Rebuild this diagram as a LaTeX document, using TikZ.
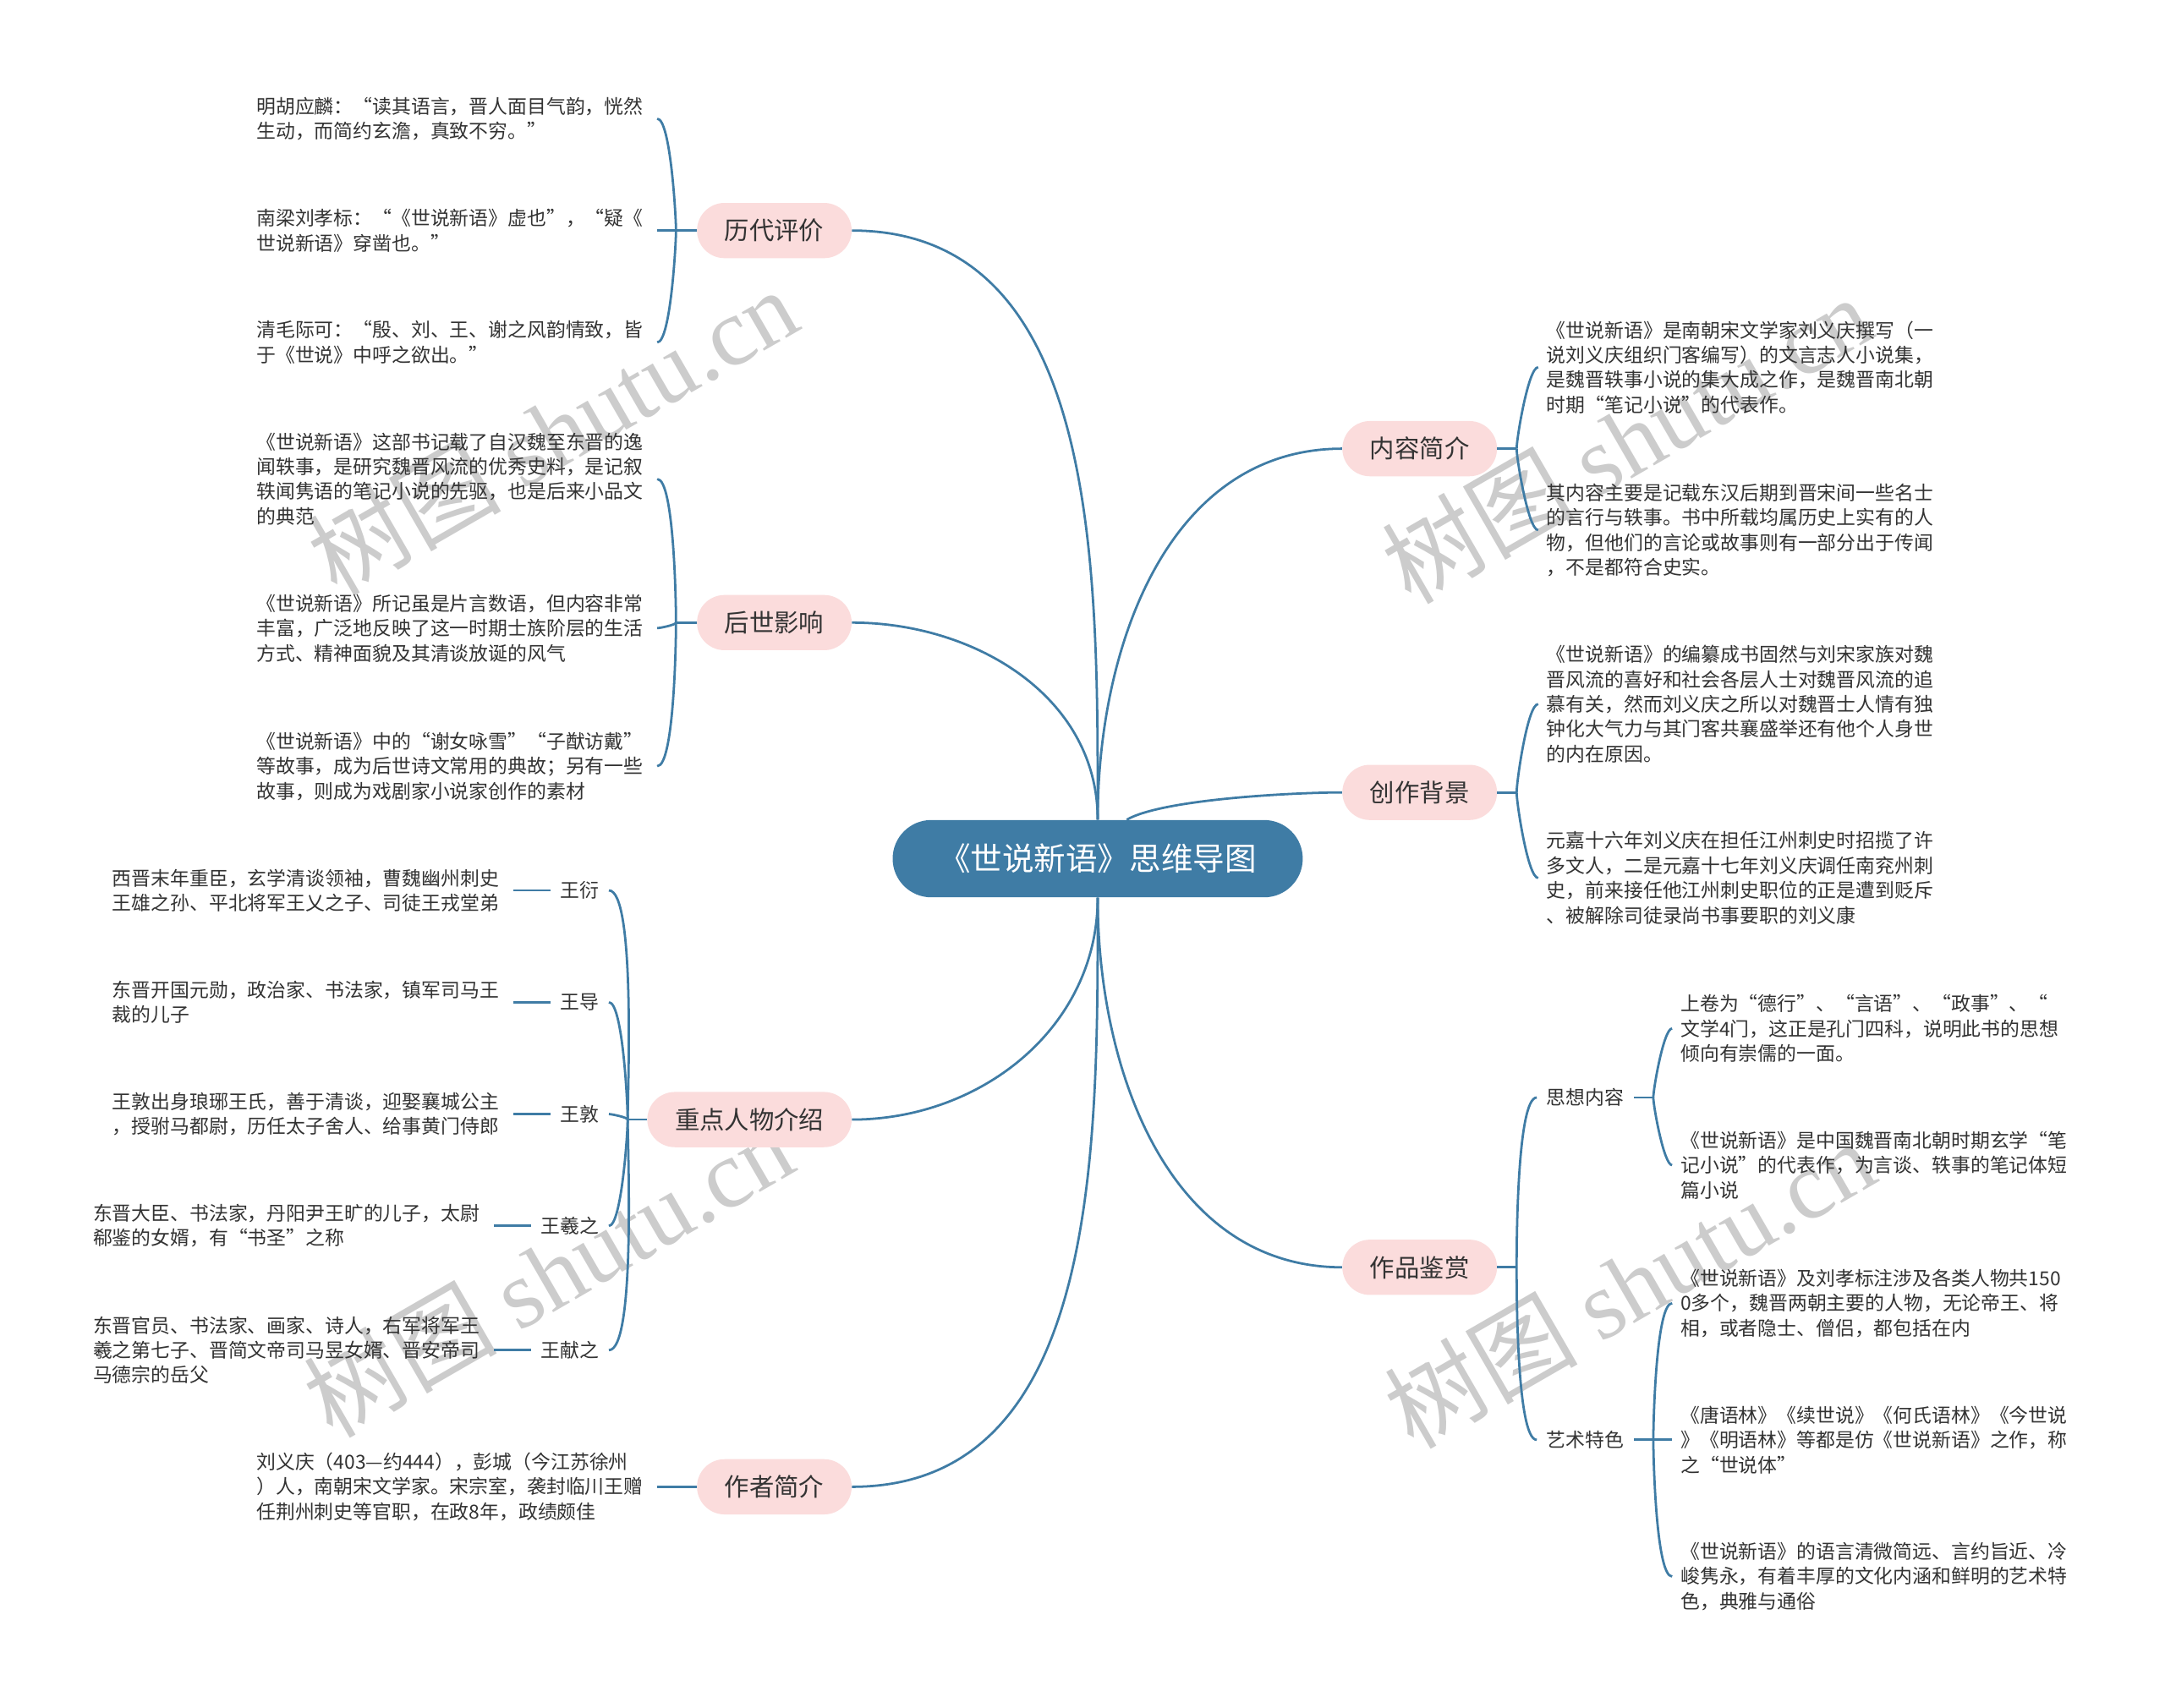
\documentclass[tikz,border=0pt]{standalone}
\usepackage{fontspec}
\setmainfont{Noto Sans CJK SC}
\newfontfamily\wmfont{Liberation Serif}
\usetikzlibrary{positioning}
\definecolor{mainblue}{HTML}{3F7CA5}
\definecolor{pinkbg}{HTML}{FBDCDC}
\definecolor{txt}{HTML}{333333}

\begin{document}
\begin{tikzpicture}[x=1pt, y=1pt,
    main/.style = {fill=mainblue, text=white, rounded corners=28pt, minimum width=297pt, minimum height=56pt, font=\fontsize{23}{28}\selectfont},
    branch/.style = {fill=pinkbg, text=txt, rounded corners=20pt, minimum height=40pt, inner xsep=20pt, font=\fontsize{18}{22}\selectfont},
    sub/.style = {text=txt, inner xsep=7pt, inner ysep=2pt, font=\fontsize{14}{18}\selectfont},
    leaf/.style = {text=txt, text width=284pt, align=left, inner xsep=6pt, inner ysep=0pt, font=\fontsize{14}{18}\selectfont},
    wmark/.style = {text=black!20, rotate=30, font=\fontsize{70}{80}\selectfont},
    link/.style = {draw=mainblue, line width=1.7pt}]
        \fill[white] (0,0) rectangle (1568,-1237);
        % watermarks
        \node[wmark] (w1) at (400,-312) {树图 {\wmfont shutu.cn}};
        \node[wmark] (w2) at (1178,-318) {树图 {\wmfont shutu.cn}};
        \node[wmark] (w3) at (397,-922) {树图 {\wmfont shutu.cn}};
        \node[wmark] (w4) at (1180,-930) {树图 {\wmfont shutu.cn}};

        \node[main] (0) at (795,-622) {《世说新语》思维导图};
        \node[branch, anchor=east] (1) at (617,-167) {历代评价};
        \node[branch, anchor=east] (2) at (617,-451) {后世影响};
        \node[branch, anchor=east] (3) at (617,-811) {重点人物介绍};
        \node[branch, anchor=east] (4) at (617,-1077) {作者简介};
        \node[branch, anchor=west] (5) at (972,-325) {内容简介};
        \node[branch, anchor=west] (6) at (972,-574) {创作背景};
        \node[branch, anchor=west] (7) at (972,-918) {作品鉴赏};

        % 历代评价
        \node[leaf, anchor=east] (11) at (476,-86) {明胡应麟：“读其语言，晋人面目气韵，恍然\\生动，而简约玄澹，真致不穷。”};
        \node[leaf, anchor=east] (12) at (476,-167) {南梁刘孝标：“《世说新语》虚也”，“疑《\\世说新语》穿凿也。”};
        \node[leaf, anchor=east] (13) at (476,-248) {清毛际可：“殷、刘、王、谢之风韵情致，皆\\于《世说》中呼之欲出。”};
        % 后世影响
        \node[leaf, anchor=east] (21) at (476,-347) {《世说新语》这部书记载了自汉魏至东晋的逸\\闻轶事，是研究魏晋风流的优秀史料，是记叙\\轶闻隽语的笔记小说的先驱，也是后来小品文\\的典范};
        \node[leaf, anchor=east] (22) at (476,-455) {《世说新语》所记虽是片言数语，但内容非常\\丰富，广泛地反映了这一时期士族阶层的生活\\方式、精神面貌及其清谈放诞的风气};
        \node[leaf, anchor=east] (23) at (476,-555) {《世说新语》中的“谢女咏雪”“子猷访戴”\\等故事，成为后世诗文常用的典故；另有一些\\故事，则成为戏剧家小说家创作的素材};
        % 重点人物介绍
        \node[sub, anchor=east] (31) at (441,-645) {王衍};
        \node[sub, anchor=east] (32) at (441,-726) {王导};
        \node[sub, anchor=east] (33) at (441,-807) {王敦};
        \node[sub, anchor=east] (34) at (441,-888) {王羲之};
        \node[sub, anchor=east] (35) at (441,-978) {王献之};
        \node[leaf, left=27pt of 31] (311) {西晋末年重臣，玄学清谈领袖，曹魏幽州刺史\\王雄之孙、平北将军王乂之子、司徒王戎堂弟};
        \node[leaf, left=27pt of 32] (321) {东晋开国元勋，政治家、书法家，镇军司马王\\裁的儿子};
        \node[leaf, left=27pt of 33] (331) {王敦出身琅琊王氏，善于清谈，迎娶襄城公主\\，授驸马都尉，历任太子舍人、给事黄门侍郎};
        \node[leaf, left=27pt of 34] (341) {东晋大臣、书法家，丹阳尹王旷的儿子，太尉\\郗鉴的女婿，有“书圣”之称};
        \node[leaf, left=27pt of 35] (351) {东晋官员、书法家、画家、诗人，右军将军王\\羲之第七子、晋简文帝司马昱女婿、晋安帝司\\马德宗的岳父};
        % 作者简介
        \node[leaf, anchor=east] (41) at (476,-1077) {刘义庆（403—约444），彭城（今江苏徐州\\）人，南朝宋文学家。宋宗室，袭封临川王赠\\任荆州刺史等官职，在政8年，政绩颇佳};
        % 内容简介
        \node[leaf, anchor=west] (51) at (1114,-266) {《世说新语》是南朝宋文学家刘义庆撰写（一\\说刘义庆组织门客编写）的文言志人小说集，\\是魏晋轶事小说的集大成之作，是魏晋南北朝\\时期“笔记小说”的代表作。};
        \node[leaf, anchor=west] (52) at (1114,-384) {其内容主要是记载东汉后期到晋宋间一些名士\\的言行与轶事。书中所载均属历史上实有的人\\物，但他们的言论或故事则有一部分出于传闻\\，不是都符合史实。};
        % 创作背景
        \node[leaf, anchor=west] (61) at (1114,-510) {《世说新语》的编纂成书固然与刘宋家族对魏\\晋风流的喜好和社会各层人士对魏晋风流的追\\慕有关，然而刘义庆之所以对魏晋士人情有独\\钟化大气力与其门客共襄盛举还有他个人身世\\的内在原因。};
        \node[leaf, anchor=west] (62) at (1114,-636) {元嘉十六年刘义庆在担任江州刺史时招揽了许\\多文人，二是元嘉十七年刘义庆调任南兖州刺\\史，前来接任他江州刺史职位的正是遭到贬斥\\、被解除司徒录尚书事要职的刘义康};
        % 作品鉴赏
        \node[sub, anchor=west] (71) at (1113,-795) {思想内容};
        \node[sub, anchor=west] (72) at (1113,-1043) {艺术特色};
        \node[leaf, anchor=west] (711) at (1211,-745) {上卷为“德行”、“言语”、“政事”、“\\文学4门，这正是孔门四科，说明此书的思想\\倾向有崇儒的一面。};
        \node[leaf, anchor=west] (712) at (1211,-844) {《世说新语》是中国魏晋南北朝时期玄学“笔\\记小说”的代表作，为言谈、轶事的笔记体短\\篇小说};
        \node[leaf, anchor=west] (721) at (1211,-944) {《世说新语》及刘孝标注涉及各类人物共150\\0多个，魏晋两朝主要的人物，无论帝王、将\\相，或者隐士、僧侣，都包括在内};
        \node[leaf, anchor=west] (722) at (1211,-1043) {《唐语林》《续世说》《何氏语林》《今世说\\》《明语林》等都是仿《世说新语》之作，称\\之“世说体”};
        \node[leaf, anchor=west] (723) at (1211,-1142) {《世说新语》的语言清微简远、言约旨近、冷\\峻隽永，有着丰厚的文化内涵和鲜明的艺术特\\色，典雅与通俗};

        % main branches
        \draw[link] (0.north) to[out=90, in=0] (1.east);
        \draw[link] (0.north) to[out=90, in=0] (2.east);
        \draw[link] (0.north) to[out=90, in=180] (5.west);
        \draw[link] ([xshift=21pt]0.north) to[out=30, in=180, looseness=0.5] (6.west);
        \draw[link] (0.south) to[out=-90, in=0] (3.east);
        \draw[link] (0.south) to[out=-90, in=0] (4.east);
        \draw[link] (0.south) to[out=-90, in=180] (7.west);

        % brackets
        \coordinate (1j) at ([xshift=-15pt]1.west);
        \coordinate (2j) at ([xshift=-15pt]2.west);
        \coordinate (3j) at ([xshift=-14pt]3.west);
        \coordinate (5j) at ([xshift=14pt]5.east);
        \coordinate (6j) at ([xshift=14pt]6.east);
        \coordinate (7j) at ([xshift=14pt]7.east);
        \coordinate (71j) at ([xshift=14pt]71.east);
        \coordinate (72j) at ([xshift=14pt]72.east);
        \draw[link] (1.west) -- (12.east);
        \draw[link] (1j) to[out=90, in=0, looseness=0.3] (11.east);
        \draw[link] (1j) to[out=-90, in=0, looseness=0.3] (13.east);
        \draw[link] (2.west) -- (2j);
        \draw[link] (2j) to[out=90, in=0, looseness=0.3] (21.east);
        \draw[link] (2j) to[out=-90, in=0, looseness=0.3] (22.east);
        \draw[link] (2j) to[out=-90, in=0, looseness=0.3] (23.east);
        \draw[link] (3.west) -- (3j);
        \draw[link] (3j) to[out=90, in=0, looseness=0.3] (31.east);
        \draw[link] (3j) to[out=90, in=0, looseness=0.3] (32.east);
        \draw[link] (3j) to[out=90, in=0, looseness=0.3] (33.east);
        \draw[link] (3j) to[out=-90, in=0, looseness=0.3] (34.east);
        \draw[link] (3j) to[out=-90, in=0, looseness=0.3] (35.east);
        \draw[link] (31.west) -- (311.east);
        \draw[link] (32.west) -- (321.east);
        \draw[link] (33.west) -- (331.east);
        \draw[link] (34.west) -- (341.east);
        \draw[link] (35.west) -- (351.east);
        \draw[link] (4.west) -- (41.east);
        \draw[link] (5.east) -- (5j);
        \draw[link] (5j) to[out=90, in=180, looseness=0.3] (51.west);
        \draw[link] (5j) to[out=-90, in=180, looseness=0.3] (52.west);
        \draw[link] (6.east) -- (6j);
        \draw[link] (6j) to[out=90, in=180, looseness=0.3] (61.west);
        \draw[link] (6j) to[out=-90, in=180, looseness=0.3] (62.west);
        \draw[link] (7.east) -- (7j);
        \draw[link] (7j) to[out=90, in=180, looseness=0.3] (71.west);
        \draw[link] (7j) to[out=-90, in=180, looseness=0.3] (72.west);
        \draw[link] (71.east) -- (71j);
        \draw[link] (71j) to[out=90, in=180, looseness=0.3] (711.west);
        \draw[link] (71j) to[out=-90, in=180, looseness=0.3] (712.west);
        \draw[link] (72.east) -- (722.west);
        \draw[link] (72j) to[out=90, in=180, looseness=0.3] (721.west);
        \draw[link] (72j) to[out=-90, in=180, looseness=0.3] (723.west);
    \end{tikzpicture}
\end{document}
